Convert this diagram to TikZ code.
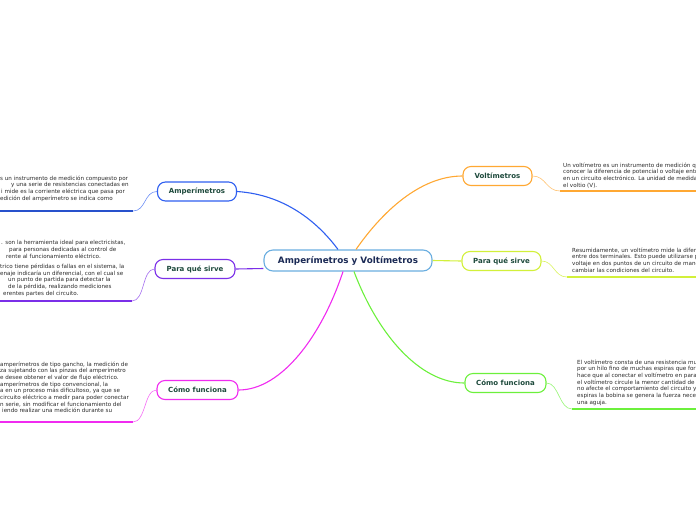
\documentclass[tikz,border=0pt]{standalone}
\usepackage{fontspec}
\setmainfont{DejaVu Sans}
\usetikzlibrary{calc}
\definecolor{ampC}{HTML}{2F5FF0}
\definecolor{parC}{HTML}{7B2FE8}
\definecolor{comC}{HTML}{F02BF0}
\definecolor{volC}{HTML}{FFA833}
\definecolor{vpaC}{HTML}{D2F03A}
\definecolor{vcoC}{HTML}{6CF03C}
\definecolor{cenC}{HTML}{6AAEE0}
\definecolor{labC}{HTML}{1E4A3C}
\definecolor{cenT}{HTML}{1B2A55}
\definecolor{bodyC}{HTML}{2A2A2A}
\tikzset{
  topic/.style={draw, line width=1.1pt, rounded corners=8pt, fill=white,
    minimum height=19pt, inner sep=0pt,
    font=\fontsize{7}{8}\selectfont\bfseries, text=labC},
  central/.style={draw=cenC, line width=1.1pt, rounded corners=9pt, fill=white,
    minimum height=21pt, minimum width=168pt, inner sep=0pt,
    font=\fontsize{8.8}{10}\selectfont\bfseries, text=cenT},
  body/.style={inner sep=0pt, align=left, anchor=north west,
    font=\fontsize{5.6}{6.65}\selectfont, text=bodyC},
  branch/.style={line width=1.1pt},
  uline/.style={line width=1.6pt},
  twig/.style={line width=0.6pt},
}
\begin{document}
\begin{tikzpicture}[x=1pt,y=-1pt]
\useasboundingbox (0,0) rectangle (696,520);

% central
\node[central] (cen) at (348,260.5) {Amperímetros y Voltímetros};

% topics
\node[topic, draw=ampC, minimum width=79pt] (amp) at (197,191.5) {Amperímetros};
\node[topic, draw=parC, minimum width=80pt] (apar) at (195,269) {Para qué sirve};
\node[topic, draw=comC, minimum width=81pt] (acom) at (197.5,390) {Cómo funciona};
\node[topic, draw=volC, minimum width=69pt] (vol) at (497.5,176) {Voltímetros};
\node[topic, draw=vpaC, minimum width=79pt] (vpar) at (501.5,261) {Para qué sirve};
\node[topic, draw=vcoC, minimum width=81pt] (vcom) at (505.5,383) {Cómo funciona};

% main branches
\draw[branch, ampC] (amp.east) .. controls (290,195) and (322,228) .. ($(cen.north)+(-10,0)$);
\draw[branch, volC] ($(cen.north)+(8,0)$) .. controls (382,212) and (420,176) .. (vol.west);
\draw[branch, parC] (apar.east) -- ($(cen.west)+(0,8)$);
\draw[branch, vpaC] (cen.east) -- (vpar.west);
\draw[branch, comC] ($(cen.south)+(-5,0)$) .. controls (322,335) and (282,390) .. (acom.east);
\draw[branch, vcoC] ($(cen.south)+(6,0)$) .. controls (378,335) and (420,383) .. (vcom.west);

% underline coordinates
\coordinate (u1) at (133,211); \coordinate (u1e) at (0,211);
\coordinate (u2) at (132,301); \coordinate (u2e) at (0,301);
\coordinate (u3) at (133,422); \coordinate (u3e) at (0,422);
\coordinate (v1) at (560,191); \coordinate (v1e) at (696,191);
\coordinate (v2) at (567,277); \coordinate (v2e) at (696,277);
\coordinate (v3) at (572,409); \coordinate (v3e) at (696,409);

% twigs and underlines
\draw[twig, ampC!70] (amp.west) .. controls (144,191.5) and (146,211) .. (u1);
\draw[uline, ampC!85!black] (u1) -- (u1e);
\draw[twig, parC!70] (apar.west) .. controls (142,269) and (145,301) .. (u2);
\draw[uline, parC] (u2) -- (u2e);
\draw[twig, comC!70] (acom.west) .. controls (144,390) and (146,422) .. (u3);
\draw[uline, comC] (u3) -- (u3e);
\draw[twig, volC!70] (vol.east) .. controls (546,176) and (546,191) .. (v1);
\draw[uline, volC] (v1) -- (v1e);
\draw[twig, vpaC!80] (vpar.east) .. controls (554,261) and (554,277) .. (v2);
\draw[uline, vpaC] (v2) -- (v2e);
\draw[twig, vcoC!70] (vcom.east) .. controls (559,383) and (559,409) .. (v3);
\draw[uline, vcoC] (v3) -- (v3e);

% body texts
\node[body] (t1) at (0,175.5) {%
s un instrumento de medición compuesto por\\
\hspace*{11pt}y una serie de resistencias conectadas en\\
\hspace*{1pt}i mide es la corriente eléctrica que pasa por\\
edición del amperímetro se indica como};

\node[body] (t2) at (0,240.5) {%
\hspace*{1pt}. son la herramienta ideal para electricistas,\\
\hspace*{9pt}para personas dedicadas al control de\\
\hspace*{6pt}rente al funcionamiento eléctrico.\\[3.5pt]
trico tiene pérdidas o fallas en el sistema, la\\
enaje indicaría un diferencial, con el cual se\\
\hspace*{8pt}un punto de partida para detectar la\\
\hspace*{8pt}de la pérdida, realizando mediciones\\
\hspace*{3pt}erentes partes del circuito.};

\node[body] (t3) at (0,361.5) {%
amperímetros de tipo gancho, la medición de\\
za sujetando con las pinzas del amperímetro\\
e desee obtener el valor de flujo eléctrico.\\
amperímetros de tipo convencional, la\\
a en un proceso más dificultoso, ya que se\\
circuito eléctrico a medir para poder conectar\\
n serie, sin modificar el funcionamiento del\\
\hspace*{2pt}iendo realizar una medición durante su};

\node[body] (t4) at (563,162.5) {%
Un voltímetro es un instrumento de medición qu\\
conocer la diferencia de potencial o voltaje entr\\
en un circuito electrónico. La unidad de medida\\
el voltio (V).};

\node[body] (t5) at (572,247.5) {%
Resumidamente, un voltímetro mide la difere\\
entre dos terminales. Esto puede utilizarse pa\\
voltaje en dos puntos de un circuito de mane\\
cambiar las condiciones del circuito.};

\node[body] (t6) at (577,359.5) {%
El voltímetro consta de una resistencia muy\\
por un hilo fino de muchas espiras que form\\
hace que al conectar el voltímetro en parale\\
el voltímetro circule la menor cantidad de c\\
no afecte el comportamiento del circuito y a\\
espiras la bobina se genera la fuerza neces\\
una aguja.};
\end{tikzpicture}
\end{document}
